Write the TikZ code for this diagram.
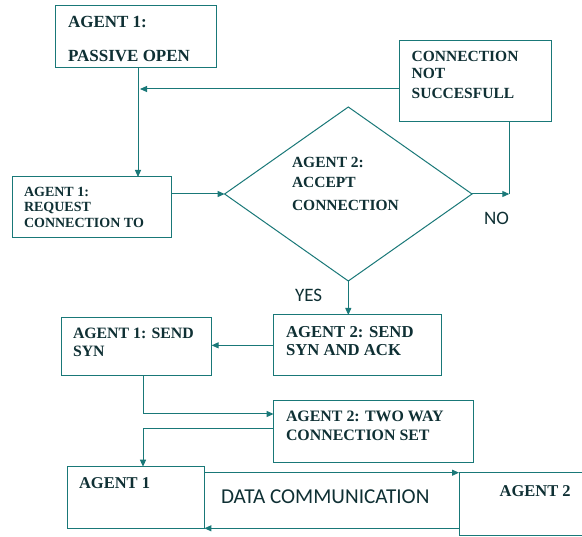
\documentclass[tikz,border=0pt]{standalone}
\usepackage{fontspec}
\setmainfont{Liberation Serif}
\newfontfamily\calfont{Carlito}
\usetikzlibrary{arrows.meta,shapes.geometric}
\definecolor{ln}{RGB}{25,120,120}
\definecolor{tx}{RGB}{15,48,52}
\begin{document}
\begin{tikzpicture}[x=1pt,y=-1pt,
  box/.style={draw=ln,line width=1pt,rectangle,inner sep=0pt,outer sep=0pt,anchor=north west},
  lbl/.style={anchor=base west,inner sep=0pt,outer sep=0pt,text=tx,font=\bfseries\fontsize{#1}{#1}\selectfont},
  lbl/.default=15,
  sl/.style={anchor=base west,inner sep=0pt,outer sep=0pt,text=tx,font=\calfont\fontsize{#1}{#1}\selectfont},
  sl/.default=19,
  arr/.style={draw=ln,line width=1pt,-{Triangle[length=7pt,width=6pt]}},
  ln/.style={draw=ln,line width=1pt}]
\path[fill=white,use as bounding box] (0,0) rectangle (582,537);

% boxes
\node[box,minimum width=160.3pt,minimum height=61.3pt] (pasv) at (55.7,6) {};
\node[box,minimum width=152.4pt,minimum height=81pt] (cns) at (399.3,41) {};
\node[box,minimum width=159pt,minimum height=61pt] (req) at (12.7,177) {};
\node[draw=ln,line width=1pt,diamond,inner sep=0pt,outer sep=0pt,minimum width=247.4pt,minimum height=174pt] (dia) at (348.3,194) {};
\node[box,minimum width=168.1pt,minimum height=60.7pt] (sack) at (273.6,315) {};
\node[box,minimum width=150.6pt,minimum height=58pt] (ssyn) at (61,317.7) {};
\node[box,minimum width=199.4pt,minimum height=61.3pt] (tway) at (273.6,401) {};
\node[box,minimum width=136.8pt,minimum height=62.3pt] (aone) at (67.6,466.7) {};
\node[box,minimum width=141pt,minimum height=63.3pt] (atwo) at (459,472.7) {};

% texts
\node[lbl=17] (pasv1) at (68,27.5) {AGENT 1:};
\node[lbl=17] (pasv2) at (68,61.5) {PASSIVE OPEN};
\node[lbl=15.5] (cns1) at (411.7,62) {CONNECTION};
\node[lbl=15.5] (cns2) at (411.7,78.5) {NOT};
\node[lbl=15.5] (cns3) at (411.7,98.5) {SUCCESFULL};
\node[lbl=15.5] (dia1) at (292,168) {AGENT 2:};
\node[lbl=15.5] (dia2) at (292,188) {ACCEPT};
\node[lbl=15.5] (dia3) at (292,211) {CONNECTION};
\node[lbl=14] (req1) at (24,196.5) {AGENT 1:};
\node[lbl=14] (req2) at (24,212) {REQUEST};
\node[lbl=14] (req3) at (24,228) {CONNECTION TO};
\node[lbl=16.7] (sack1) at (286,337.5) {AGENT 2: SEND};
\node[lbl=16.7] (sack2) at (286,355.5) {SYN AND ACK};
\node[lbl=15.8] (ssyn1) at (73,338.5) {AGENT 1: SEND};
\node[lbl=15.8] (ssyn2) at (73,357) {SYN};
\node[lbl=15.9] (tway1) at (286,421.5) {AGENT 2: TWO WAY};
\node[lbl=15.9] (tway2) at (286,440.5) {CONNECTION SET};
\node[lbl=16.5] (aone1) at (79,488.5) {AGENT 1};
\node[lbl=16.5] (atwo1) at (499.6,496.5) {AGENT 2};
\node[sl=21.2] (data) at (221,504) {DATA COMMUNICATION};
\node[sl=19] (no) at (484,225) {NO};
\node[sl=19] (yes) at (295,301.5) {YES};

% connectors
\coordinate (j1) at (138,89);
\coordinate (nj) at (509.3,194);
\coordinate (k) at (143,414);
\coordinate (m) at (143,429);
\coordinate (t) at (0,472.7);
\coordinate (b) at (0,528.3);
\draw[ln] (pasv.south -| j1) -- (j1);
\draw[arr] (j1) -- (req.north -| j1);
\draw[arr] (cns.west |- j1) -- ([xshift=2pt]j1);
\draw[arr] (req.east |- dia.west) -- (dia.west);
\draw[arr] (dia.east) -- (nj);
\draw[ln] (cns.south -| nj) -- (nj);
\draw[arr] (dia.south) -- (dia.south |- sack.north);
\draw[arr] (sack.west) -- (sack.west -| ssyn.east);
\draw[arr] (ssyn.south -| k) |- (tway.west |- k);
\draw[arr] (tway.west |- m) -| (aone.north -| m);
\draw[arr] (aone.east |- t) -- (atwo.west |- t);
\draw[arr] (atwo.west |- b) -- (aone.east |- b);
\end{tikzpicture}
\end{document}
